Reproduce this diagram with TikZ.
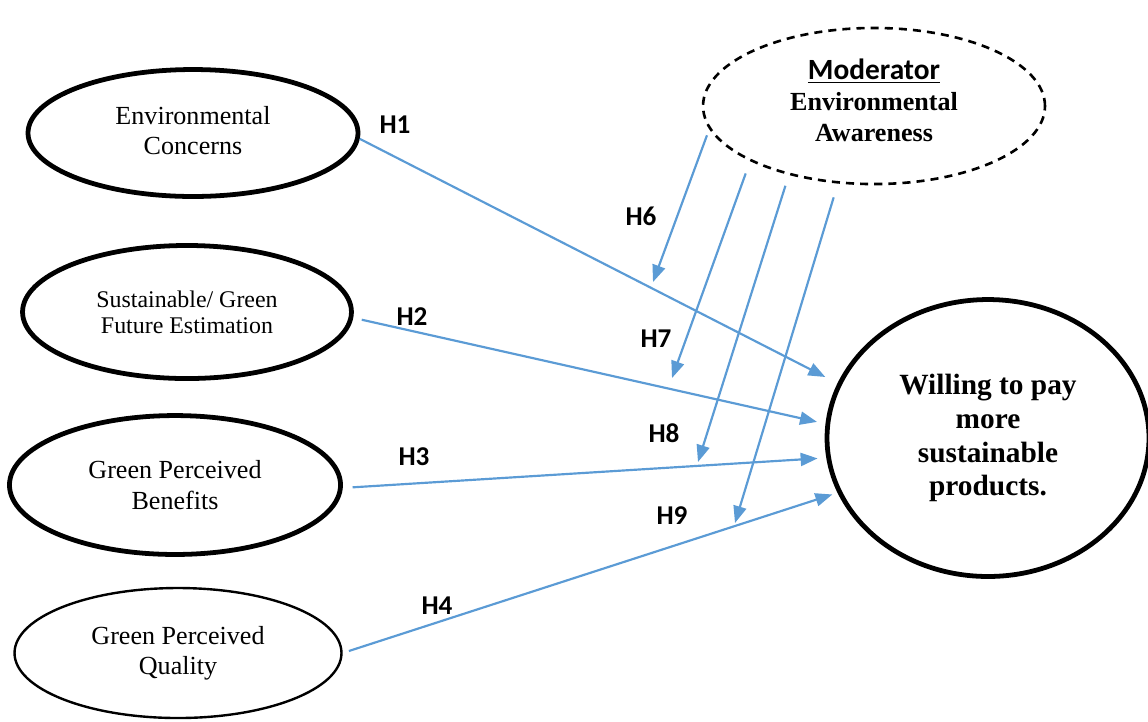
\documentclass[tikz,border=0pt]{standalone}
\usepackage{fontspec}
\setmainfont{Liberation Serif}
\newfontfamily\hfont{Carlito}
\usetikzlibrary{shapes.geometric,arrows.meta}
\definecolor{hblue}{HTML}{5B9BD5}

\begin{document}
\begin{tikzpicture}[
    x = 0.46pt, y = -0.46pt,
    construct/.style = {ellipse, draw, line width=2.2pt, inner sep=0pt, align=center, font=\fontsize{12}{13.8}\selectfont},
    hyp/.style = {hblue, line width=1pt, -{Triangle[length=7.8pt, width=6pt]}},
    hlabel/.style = {font=\hfont\bfseries\fontsize{12.5}{14}\selectfont}
]

\useasboundingbox (0,0) rectangle (1148,721);

\node[construct, minimum width=151.8pt, minimum height=58.4pt, text depth=2.5pt] (envc) at (193,133) {Environmental\\Concerns};
\node[construct, minimum width=151.3pt, minimum height=61.2pt, font=\fontsize{11}{12}\selectfont] (sgfe) at (187,312) {Sustainable/ Green\\Future Estimation};
\node[construct, minimum width=152.3pt, minimum height=63.9pt, font=\fontsize{12}{14.5}\selectfont] (gpb) at (175,485) {Green Perceived\\Benefits};
\node[construct, line width=1.1pt, minimum width=150.4pt, minimum height=59.8pt] (gpq) at (178,653) {Green Perceived\\Quality};

\node[ellipse, draw, line width=1.2pt, dash pattern=on 3.7pt off 2.8pt, inner sep=0pt, align=center, text depth=5.6pt,
      minimum width=157.3pt, minimum height=71.8pt, font=\bfseries\fontsize{12}{14.2}\selectfont] (moder) at (874,106)
      {\underline{\hfont\fontsize{13.5}{15}\selectfont Moderator}\\Environmental\\Awareness};

\node[construct, minimum width=148.1pt, minimum height=127.4pt, font=\bfseries\fontsize{13.5}{15.6}\selectfont] (wtp) at (988,438)
      {Willing to pay\\more\\sustainable\\products.};

\coordinate (h6e) at (653,282);
\coordinate (h7e) at (672,378);
\coordinate (h8e) at (698,462);
\coordinate (h9e) at (735,523);

% direct effects
\draw[hyp, shorten >=6.3pt] (envc.-2.4) -- (wtp.160);
\draw[hyp, shorten <=4pt, shorten >=4pt] (sgfe.-2) -- (wtp.175.7);
\draw[hyp, shorten <=4.5pt, shorten >=4pt] (gpb.-1) -- (wtp.187.4);
\draw[hyp, shorten <=3pt, shorten >=2.5pt] (gpq.east) -- (wtp.200.2);

% moderation
\draw[hyp, shorten <=3pt] (moder.188) -- (h6e);
\draw[hyp, shorten <=6pt] (moder.204.5) -- (h7e);
\draw[hyp, shorten <=5.2pt] (moder.219.6) -- (h8e);
\draw[hyp, shorten <=6.6pt] (moder.245.5) -- (h9e);

\node[hlabel] (l1) at (395,125) {H1};
\node[hlabel] (l2) at (412,317) {H2};
\node[hlabel] (l3) at (414,457) {H3};
\node[hlabel] (l4) at (437,606) {H4};
\node[hlabel] (l6) at (641,216) {H6};
\node[hlabel] (l7) at (656,339) {H7};
\node[hlabel] (l8) at (664,433) {H8};
\node[hlabel] (l9) at (672,516) {H9};

\end{tikzpicture}
\end{document}
